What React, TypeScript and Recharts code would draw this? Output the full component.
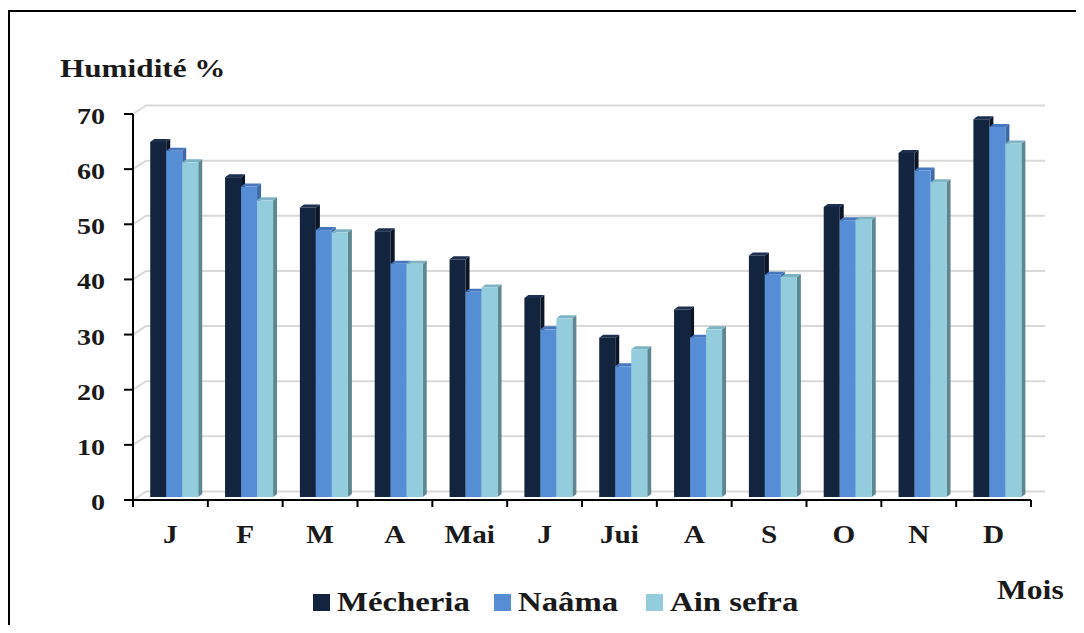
import React from 'react';
import { BarChart, Bar, XAxis, YAxis, CartesianGrid } from 'recharts';

const MONTHS = ['J', 'F', 'M', 'A', 'Mai', 'J', 'Jui', 'A', 'S', 'O', 'N', 'D'];
const MECHERIA = [64.4, 58.0, 52.5, 48.2, 43.1, 36.1, 28.9, 34.0, 43.8, 52.6, 62.4, 68.5];
const NAAMA = [62.8, 56.3, 48.4, 42.3, 37.2, 30.4, 23.7, 28.9, 40.3, 50.2, 59.2, 67.1];
const AIN_SEFRA = [60.7, 53.8, 48.0, 42.3, 38.0, 32.4, 26.8, 30.4, 39.9, 50.3, 57.1, 64.1];
const Y_TICKS = [0, 10, 20, 30, 40, 50, 60, 70];

const SERIES = [
  { key: 'mecheria', name: 'Mécheria', front: '#13243e', side: '#0b1526', top: '#1d3050' },
  { key: 'naama', name: 'Naâma', front: '#568ed6', side: '#3d69a6', top: '#4677bd' },
  { key: 'ainSefra', name: 'Ain sefra', front: '#93cddd', side: '#5e8891', top: '#7db3c2' },
];

const data = MONTHS.map((m, i) => ({
  month: m,
  mecheria: MECHERIA[i],
  naama: NAAMA[i],
  ainSefra: AIN_SEFRA[i],
}));

const W = 1068;
const H = 617;
const MARGIN = { top: 106, right: 45, bottom: 0, left: 0 };
const Y_AXIS_W = 125;
const BAND = (W - MARGIN.right - Y_AXIS_W) / MONTHS.length;

const FONT = '"Liberation Serif", "Times New Roman", serif';
const STRETCH = 1.17;

// pseudo 3D column: front face + right side + top
const make3DBar = (s: { front: string; side: string; top: string }) => (props: any) => {
  const { x, y, width, height } = props;
  if (height == null || height <= 0) return <g />;
  const d = 4;
  const e = 3;
  const fx = x + 4.5;
  const fy = y - 3;
  return (
    <g>
      <path
        d={`M${fx + width},${fy} L${fx + width + d},${fy - e} L${fx + width + d},${fy + height - e} L${fx + width},${fy + height} Z`}
        fill={s.side}
      />
      <path
        d={`M${fx},${fy} L${fx + d},${fy - e} L${fx + width + d},${fy - e} L${fx + width},${fy} Z`}
        fill={s.top}
      />
      <rect x={fx} y={fy} width={width} height={height} fill={s.front} />
    </g>
  );
};

const gridLine = (props: any) => {
  const { x1, x2, y1, index } = props;
  return (
    <path
      key={`grid-${index}`}
      d={`M${x1},${y1} L${x1 + 13},${y1 - 8.5} L${x2 + 14},${y1 - 8.5}`}
      stroke="#d9d9d9"
      strokeWidth={2}
      fill="none"
    />
  );
};

const YTick = (props: any) => {
  const { x, y, payload } = props;
  return (
    <text
      transform={`translate(${x},${y}) scale(${STRETCH},1)`}
      textAnchor="end"
      dy={10}
      fontFamily={FONT}
      fontWeight="bold"
      fontSize={24}
      fill="#1a1a1a"
    >
      {payload.value}
    </text>
  );
};

// month label + tick marks on the category boundaries
const MonthTick = (props: any) => {
  const { x, y, payload, index } = props;
  const left = x - BAND / 2;
  const right = x + BAND / 2;
  return (
    <g>
      <line x1={left} x2={left} y1={y} y2={y + 7} stroke="#000" strokeWidth={2} />
      {index === MONTHS.length - 1 && (
        <line x1={right} x2={right} y1={y} y2={y + 7} stroke="#000" strokeWidth={2} />
      )}
      <text
        transform={`translate(${x},${y + 43}) scale(${STRETCH},1)`}
        textAnchor="middle"
        fontFamily={FONT}
        fontWeight="bold"
        fontSize={25}
        fill="#1a1a1a"
      >
        {payload.value}
      </text>
    </g>
  );
};

const textStyle = (size: number, stretch = STRETCH): React.CSSProperties => ({
  position: 'absolute',
  fontFamily: FONT,
  fontWeight: 'bold',
  fontSize: size,
  lineHeight: 1,
  color: '#1a1a1a',
  whiteSpace: 'nowrap',
  transform: `scaleX(${stretch})`,
  transformOrigin: 'left center',
});

export default function App() {
  return (
    <div style={{ position: 'relative', width: W, height: H, overflow: 'hidden', background: '#fff' }}>
      <div
        style={{
          position: 'absolute',
          left: 0,
          top: 2,
          width: 2000,
          height: 2000,
          borderLeft: '2px solid #000',
          borderTop: '2px solid #000',
        }}
      />
      <div style={{ ...textStyle(26, 1.2), left: 52, top: 48 }}>Humidité %</div>
      <div style={{ position: 'absolute', left: 0, top: 0 }}>
        <BarChart
          width={W}
          height={H}
          data={data}
          margin={MARGIN}
          barCategoryGap="17%"
          barGap={0}
        >
          <CartesianGrid vertical={false} horizontal={gridLine} />
          <XAxis
            dataKey="month"
            interval={0}
            axisLine
            stroke="#000"
            strokeWidth={2}
            tickLine={false}
            tickSize={0}
            tickMargin={0}
            height={H - MARGIN.top - 386}
            tick={<MonthTick />}
          />
          <YAxis
            domain={[0, 70]}
            ticks={Y_TICKS}
            width={Y_AXIS_W}
            tickSize={9}
            tickMargin={19}
            axisLine
            stroke="#000"
            strokeWidth={2}
            tickLine={{ stroke: '#000', strokeWidth: 2 }}
            tick={<YTick />}
          />
          {SERIES.map((s) => (
            <Bar
              key={s.key}
              dataKey={s.key}
              name={s.name}
              fill={s.front}
              shape={make3DBar(s)}
              isAnimationActive={false}
            />
          ))}
        </BarChart>
      </div>
      <div style={{ position: 'absolute', left: 305, top: 580, display: 'flex', alignItems: 'center', height: 28 }}>
        {SERIES.map((s) => (
          <div key={s.key} style={{ display: 'flex', alignItems: 'center', marginRight: 43 }}>
            <span style={{ display: 'inline-block', width: 17, height: 17, background: s.front, marginRight: 7 }} />
            <span style={{ ...textStyle(28), position: 'relative' }}>{s.name}</span>
          </div>
        ))}
      </div>
      <div style={{ ...textStyle(27), left: 989, top: 569 }}>Mois</div>
    </div>
  );
}
